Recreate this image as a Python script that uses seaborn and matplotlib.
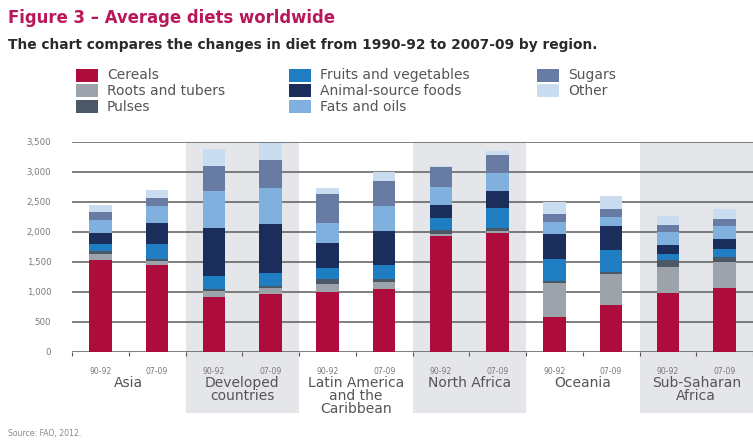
import matplotlib
matplotlib.use("Agg")
import matplotlib.pyplot as plt
import matplotlib.transforms as mtransforms
from matplotlib.patches import Rectangle
import numpy as np
import pandas as pd
import seaborn as sns

# ---- data: average dietary energy supply (kcal/person/day) ----
regions = ["Asia", "Developed\ncountries", "Latin America\nand the\nCaribbean",
           "North Africa", "Oceania", "Sub-Saharan\nAfrica"]
periods = ["90-92", "07-09"]
food_groups = ["Cereals", "Roots and tubers", "Pulses", "Fruits and vegetables",
               "Animal-source foods", "Fats and oils", "Sugars", "Other"]
group_colors = ["#ad0c3c", "#9ca3aa", "#4b5866", "#1f7dc2",
                "#1b2d5a", "#80b1de", "#687ba3", "#c9dcf0"]

# one value per bar: (Asia 90-92, Asia 07-09, Developed 90-92, ...)
cereals = [1530, 1445, 917, 960, 1000, 1040, 1920, 1980, 580, 785, 975, 1065]
roots   = [100, 70, 100, 110, 125, 120, 40, 30, 560, 510, 440, 435]
pulses  = [40, 30, 20, 20, 80, 60, 60, 50, 40, 40, 110, 85]
fruits  = [125, 250, 230, 215, 190, 220, 200, 340, 360, 360, 110, 125]
animal  = [190, 345, 800, 815, 410, 570, 220, 280, 420, 400, 150, 165]
fats    = [210, 290, 610, 610, 345, 410, 300, 300, 205, 145, 215, 220]
sugars  = [140, 130, 420, 460, 470, 420, 330, 300, 125, 135, 115, 110]
other   = [110, 130, 280, 280, 100, 150, 20, 70, 210, 215, 150, 165]

yticks = [0, 500, 1000, 1500, 2000, 2500, 3000, 3500]
shaded_regions = [1, 3, 5]

# ---- long table with cumulative tops for stacking ----
series = [cereals, roots, pulses, fruits, animal, fats, sugars, other]
bar_ids = [f"{r}|{p}" for r in regions for p in periods]
stack = np.cumsum(np.array(series), axis=0)
rows = []
for gi, g in enumerate(food_groups):
    for bi, b in enumerate(bar_ids):
        rows.append({"bar": b, "group": g, "top": stack[gi, bi]})
df = pd.DataFrame(rows)

sns.set_theme(style="white")
plt.rcParams["font.family"] = ["DejaVu Sans"]

W, H = 753, 440
fig = plt.figure(figsize=(W / 100, H / 100), dpi=100)
fig.patch.set_facecolor("white")


def fx(px):
    return px / W


def fy(py):
    return 1 - py / H


ax_left, ax_right, ax_top, ax_bottom = 72, 753, 141.7, 351.7
ax = fig.add_axes([fx(ax_left), fy(ax_bottom), fx(ax_right - ax_left),
                   (ax_bottom - ax_top) / H])
ax.set_facecolor("none")

# stacked bars: draw cumulative totals from the top layer downwards
for g, c in reversed(list(zip(food_groups, group_colors))):
    sub = df[df["group"] == g]
    sns.barplot(data=sub, x="bar", y="top", order=bar_ids, color=c,
                saturation=1, width=0.4, errorbar=None, linewidth=0,
                ax=ax, zorder=2)

ax.set_xlim(-0.5, len(bar_ids) - 0.5)
ax.set_ylim(0, 3500)
ax.set_xlabel("")
ax.set_ylabel("")

# shaded region bands that run down behind the labels
trans = mtransforms.blended_transform_factory(ax.transData, ax.transAxes)
band_bottom = -(413 - ax_bottom) / (ax_bottom - ax_top)
for ri in shaded_regions:
    ax.add_patch(Rectangle((2 * ri - 0.5, band_bottom), 2, 1 - band_bottom,
                           transform=trans, facecolor="#e4e6ea",
                           edgecolor="none", zorder=0, clip_on=False))

# grid and axes
ax.set_axisbelow(True)
ax.grid(axis="y", color="#5c5c5c", linewidth=1.1, zorder=1)
ax.grid(axis="x", visible=False)
for s in ax.spines.values():
    s.set_visible(False)

ax.set_yticks(yticks)
ax.set_yticklabels([f"{v:,}" for v in yticks])
ax.tick_params(axis="y", length=0, pad=15, labelsize=6.2, labelcolor="#7a7a7a")

ax.set_xticks(range(len(bar_ids)))
ax.set_xticklabels(periods * len(regions))
ax.set_xticks(np.arange(-0.5, len(bar_ids), 1), minor=True)
ax.tick_params(axis="x", which="major", length=0, pad=11, labelsize=5.6,
               labelcolor="#7a7a7a")
ax.tick_params(axis="x", which="minor", length=3, width=0.8, color="#555555",
               bottom=True)

label_top = -(376 - ax_bottom) / (ax_bottom - ax_top)
for ri, r in enumerate(regions):
    ax.text(2 * ri + 0.5, label_top, r, transform=trans, ha="center",
            va="top", fontsize=10, color="#555555", linespacing=0.92)

# titles
fig.text(fx(8), fy(18), "Figure 3 \u2013 Average diets worldwide",
         fontsize=11.9, fontweight="bold", color="#b8185a", va="center")
fig.text(fx(8), fy(45),
         "The chart compares the changes in diet from 1990-92 to 2007-09 by region.",
         fontsize=9.9, fontweight="bold", color="#2a2a2a", va="center")

# legend
col_x = [76, 289, 537]
row_y = [75, 91, 107]
layout = [(0, 0), (0, 1), (0, 2), (1, 0), (1, 1), (1, 2), (2, 0), (2, 1)]
for (ci, rj), g, c in zip(layout, food_groups, group_colors):
    x0, yc = col_x[ci], row_y[rj]
    fig.patches.append(Rectangle((fx(x0), fy(yc + 6.5)), fx(22), 13 / H,
                                 transform=fig.transFigure, facecolor=c,
                                 edgecolor="none"))
    fig.text(fx(x0 + 31), fy(yc), g, fontsize=10, color="#555555",
             va="center")

fig.text(fx(8), fy(433), "Source: FAO, 2012.", fontsize=5.6,
         color="#888888", va="center")

fig.savefig("out.png", dpi=100)
